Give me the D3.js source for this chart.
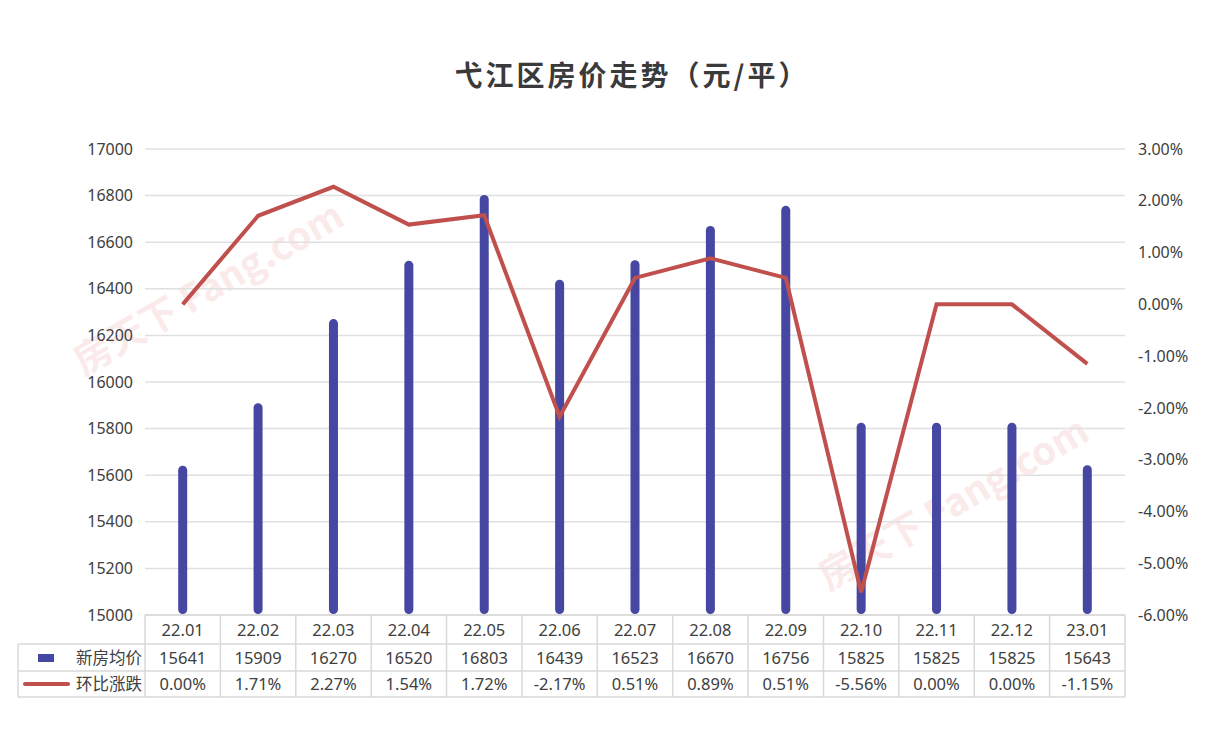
<!DOCTYPE html>
<html><head><meta charset="utf-8">
<script src="https://cdn.jsdelivr.net/npm/d3@7/dist/d3.min.js"></script>
<style>
html,body{margin:0;padding:0;background:#fff;}
svg{display:block;font-family:"Noto Sans CJK SC","Noto Sans",sans-serif;}
</style></head>
<body><svg id="c" width="1207" height="735"></svg>
<script>
const categories = ["22.01","22.02","22.03","22.04","22.05","22.06","22.07","22.08","22.09","22.10","22.11","22.12","23.01"];
const prices = [15641,15909,16270,16520,16803,16439,16523,16670,16756,15825,15825,15825,15643];
const changes = [0.00,1.71,2.27,1.54,1.72,-2.17,0.51,0.89,0.51,-5.56,0.00,0.00,-1.15];
const leftTicks = [15000,15200,15400,15600,15800,16000,16200,16400,16600,16800,17000];
const rightTicks = [-6,-5,-4,-3,-2,-1,0,1,2,3];
const seriesNames = ["新房均价","环比涨跌"];
const title = "弋江区房价走势（元/平）";

const svg = d3.select("#c");
const L = 145, R = 1125, T = 149, B = 615;
const textColor = "#404040";

// watermarks (faint)
const wm = svg.append("g").attr("fill","#fbeaea").attr("font-weight","bold").attr("font-family","'Noto Sans CJK SC',sans-serif");
[[215,300,38],[960,515,38]].forEach(([x,y,s])=>{
  wm.append("text").attr("transform",`translate(${x},${y}) rotate(-30)`).attr("text-anchor","middle")
    .attr("font-size",s).text("房天下 Fang.com");
});

const x = d3.scaleBand().domain(categories).range([L,R]);
const yL = d3.scaleLinear().domain([15000,17000]).range([B,T]);
const yR = d3.scaleLinear().domain([-6,3]).range([B,T]);

// gridlines
svg.append("g").selectAll("line").data(leftTicks).join("line")
  .attr("x1",L).attr("x2",R).attr("y1",d=>yL(d)).attr("y2",d=>yL(d))
  .attr("stroke","#e0e0e0").attr("stroke-width",1.5);

// left axis
const axL = svg.append("g").attr("transform",`translate(${L},0)`)
  .call(d3.axisLeft(yL).tickValues(leftTicks).tickSize(0).tickPadding(12).tickFormat(d3.format("d")));
axL.select(".domain").remove();
axL.selectAll("text").attr("font-size",16).attr("fill",textColor).attr("font-family","'Noto Sans','Noto Sans CJK SC',sans-serif");

// right axis
const axR = svg.append("g").attr("transform",`translate(${R},0)`)
  .call(d3.axisRight(yR).tickValues(rightTicks).tickSize(0).tickPadding(13).tickFormat(d=>d.toFixed(2)+"%"));
axR.select(".domain").remove();
axR.selectAll("text").attr("font-size",16).attr("fill",textColor).attr("font-family","'Noto Sans','Noto Sans CJK SC',sans-serif");

// bars
const bw = 9;
svg.append("g").selectAll("rect").data(prices).join("rect")
  .attr("x",(d,i)=>x(categories[i])+x.bandwidth()/2-bw/2)
  .attr("y",d=>yL(d)).attr("width",bw).attr("height",d=>yL(15000)-yL(d)-1)
  .attr("rx",bw/2).attr("fill","#4646a3");

// line
const line = d3.line().x((d,i)=>x(categories[i])+x.bandwidth()/2).y(d=>yR(d));
svg.append("path").datum(changes).attr("d",line).attr("fill","none")
  .attr("stroke","#c0504d").attr("stroke-width",4).attr("stroke-linejoin","miter");

// title
svg.append("text").attr("x",632).attr("y",86).attr("text-anchor","middle")
  .attr("font-size",28).attr("letter-spacing",3).attr("font-weight","bold").attr("fill","#3a3a3a").text(title);

// data table
const rowY = [615,644,671,697];
const tableLeft = 18;
const tg = svg.append("g").attr("stroke","#d9d9d9").attr("stroke-width",1.5);
tg.append("line").attr("x1",L).attr("x2",R).attr("y1",rowY[0]).attr("y2",rowY[0]);
[1,2,3].forEach(i=>tg.append("line").attr("x1",tableLeft).attr("x2",R).attr("y1",rowY[i]).attr("y2",rowY[i]));
tg.append("line").attr("x1",tableLeft).attr("x2",tableLeft).attr("y1",rowY[1]).attr("y2",rowY[3]);
categories.forEach(c=>tg.append("line").attr("x1",x(c)).attr("x2",x(c)).attr("y1",rowY[0]).attr("y2",rowY[3]));
tg.append("line").attr("x1",R).attr("x2",R).attr("y1",rowY[0]).attr("y2",rowY[3]);

const cell = svg.append("g").attr("font-size",16.5).attr("fill",textColor).attr("text-anchor","middle")
  .attr("font-family","'Noto Sans','Noto Sans CJK SC',sans-serif");
categories.forEach((c,i)=>{
  const cx = x(c)+x.bandwidth()/2;
  cell.append("text").attr("x",cx).attr("y",(rowY[0]+rowY[1])/2+6).text(c);
  cell.append("text").attr("x",cx).attr("y",(rowY[1]+rowY[2])/2+6).text(prices[i]);
  cell.append("text").attr("x",cx).attr("y",(rowY[2]+rowY[3])/2+6).text(changes[i].toFixed(2)+"%");
});
// legend in table
svg.append("rect").attr("x",38).attr("y",654).attr("width",16).attr("height",8).attr("fill","#4646a3");
svg.append("line").attr("x1",25).attr("x2",68).attr("y1",684).attr("y2",684).attr("stroke","#c0504d").attr("stroke-width",4).attr("stroke-linecap","round");
const lg = svg.append("g").attr("font-size",16.5).attr("fill",textColor).attr("text-anchor","middle")
  .attr("font-family","'Noto Sans CJK SC',sans-serif");
lg.append("text").attr("x",109).attr("y",(rowY[1]+rowY[2])/2+6).text(seriesNames[0]);
lg.append("text").attr("x",109).attr("y",(rowY[2]+rowY[3])/2+6).text(seriesNames[1]);
</script></body></html>
